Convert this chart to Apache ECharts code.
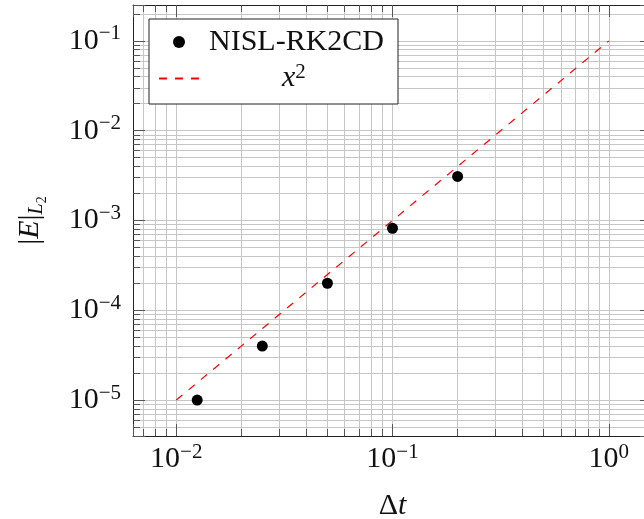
<!DOCTYPE html>
<html>
<head>
<meta charset="utf-8">
<script src="https://cdn.jsdelivr.net/npm/echarts@6.0.0/dist/echarts.min.js"></script>
<style>
html,body{margin:0;padding:0;background:#fff;}
#chart{width:644px;height:519px;}
</style>
</head>
<body>
<div id="chart"></div>
<script>
// ---- data ----
const seriesNames = ['NISL-RK2CD', 'x^2'];
const dtValues = [0.0125, 0.025, 0.05, 0.1, 0.2];
const errValues = [1.0e-5, 4.0e-5, 2.0e-4, 8.2e-4, 3.1e-3];
const refX = [0.01, 1];
const refY = [1e-5, 0.1];
const xLimits = [Math.pow(10, -2.2), Math.pow(10, 0.2)];
const yLimits = [Math.pow(10, -5.4), Math.pow(10, -0.6)];
const tickMultipliers = [1, 2, 3, 4, 5, 6, 7, 8, 9];

// ---- styles ----
const FONT = '"Liberation Serif", "DejaVu Serif", serif';
const GRID_COLOR = '#c6c6c6';
const TICK_COLOR = '#555';
const AXIS_COLOR = '#222';

function expLabel(v) {
  const e = Math.log10(v);
  const r = Math.round(e);
  if (Math.abs(e - r) > 1e-6) return '';
  return '{b|10}{s|' + (r < 0 ? '\u2212' + (-r) : String(r)) + '}';
}
const labelRich = {
  b: {fontFamily: FONT, fontSize: 30, lineHeight: 30, color: '#111'},
  s: {fontFamily: FONT, fontSize: 21, lineHeight: 21, color: '#111', padding: [0, 0, 14, 0]}
};

const xAxes = [], yAxes = [];
tickMultipliers.forEach(function (k) {
  ['bottom', 'top'].forEach(function (pos) {
    const main = (k === 1 && pos === 'bottom');
    xAxes.push({
      type: 'log', logBase: 10, position: pos, gridIndex: 0,
      min: xLimits[0] / k, max: xLimits[1] / k,
      axisLine: {show: k === 1, onZero: false, lineStyle: {color: AXIS_COLOR, width: 1}},
      axisTick: {show: true, inside: true, length: k === 1 ? 12 : 7, lineStyle: {color: TICK_COLOR, width: 1}},
      axisLabel: {show: main, margin: 8, formatter: expLabel, rich: labelRich, showMinLabel: true, showMaxLabel: true, hideOverlap: false},
      splitLine: {show: pos === 'bottom', lineStyle: {color: GRID_COLOR, width: 1}},
      name: main ? '{d|Δ}{t|t}' : '',
      nameLocation: 'middle', nameGap: 55,
      nameTextStyle: {rich: {
        d: {fontFamily: FONT, fontSize: 30, lineHeight: 30, color: '#111'},
        t: {fontFamily: FONT, fontSize: 30, lineHeight: 30, fontStyle: 'italic', color: '#111'}
      }}
    });
  });
  ['left', 'right'].forEach(function (pos) {
    const main = (k === 1 && pos === 'left');
    yAxes.push({
      type: 'log', logBase: 10, position: pos, gridIndex: 0,
      min: yLimits[0] / k, max: yLimits[1] / k,
      axisLine: {show: k === 1, onZero: false, lineStyle: {color: AXIS_COLOR, width: 1}},
      axisTick: {show: true, inside: true, length: k === 1 ? 12 : 7, lineStyle: {color: TICK_COLOR, width: 1}},
      axisLabel: {show: main, margin: 12, formatter: expLabel, rich: labelRich, hideOverlap: false},
      splitLine: {show: pos === 'left', lineStyle: {color: GRID_COLOR, width: 1}},
      name: main ? '{a||}{e|E}{a||}{l|L}{n|2}' : '',
      nameLocation: 'middle', nameGap: 88, nameRotate: 90,
      nameTextStyle: {rich: {
        a: {fontFamily: FONT, fontSize: 30, lineHeight: 30, color: '#111'},
        e: {fontFamily: FONT, fontSize: 30, lineHeight: 30, fontStyle: 'italic', color: '#111'},
        l: {fontFamily: FONT, fontSize: 20, lineHeight: 20, fontStyle: 'italic', color: '#111', padding: [14, 0, 0, 0]},
        n: {fontFamily: FONT, fontSize: 14, lineHeight: 14, color: '#111', padding: [24, 0, 0, 0]}
      }}
    });
  });
});

const chart = echarts.init(document.getElementById('chart'), null, {renderer: 'canvas'});
chart.setOption({
  animation: false,
  backgroundColor: '#fff',
  grid: {left: 133, top: 5, width: 519, height: 431, containLabel: false, outerBoundsMode: 'none'},
  xAxis: xAxes,
  yAxis: yAxes,
  legend: {
    left: 149, top: 19, orient: 'vertical',
    padding: [8, 14, 9, 9],
    itemWidth: 40, itemHeight: 12, itemGap: 5,
    backgroundColor: '#fff', borderColor: '#222', borderWidth: 1,
    selectedMode: false,
    data: [
      {name: seriesNames[0], itemStyle: {color: '#000', opacity: 1}},
      {name: seriesNames[1], itemStyle: {opacity: 0}}
    ],
    formatter: function (name) {
      if (name === seriesNames[0]) return '{n|' + name + '}';
      return '{p|}{i|x}{s|2}';
    },
    textStyle: {rich: {
      n: {fontFamily: FONT, fontSize: 30, lineHeight: 30, color: '#111', padding: [0, 0, 0, 5]},
      p: {width: 78, lineHeight: 30},
      i: {fontFamily: FONT, fontSize: 30, lineHeight: 30, fontStyle: 'italic', color: '#111'},
      s: {fontFamily: FONT, fontSize: 21, lineHeight: 21, color: '#111', padding: [0, 0, 12, 0]}
    }}
  },
  series: [
    {
      name: seriesNames[1], type: 'line', xAxisIndex: 0, yAxisIndex: 0,
      data: refX.map(function (x, i) { return [x, refY[i]]; }),
      symbol: 'none', showSymbol: false, z: 3,
      lineStyle: {color: '#ff0000', width: 1.2, type: [8, 8]},
      itemStyle: {color: '#ff0000'}
    },
    {
      name: seriesNames[0], type: 'scatter', xAxisIndex: 0, yAxisIndex: 0,
      data: dtValues.map(function (x, i) { return [x, errValues[i]]; }),
      symbol: 'circle', symbolSize: 11, z: 4,
      itemStyle: {color: '#000', opacity: 1}
    }
  ]
});
</script>
</body>
</html>
